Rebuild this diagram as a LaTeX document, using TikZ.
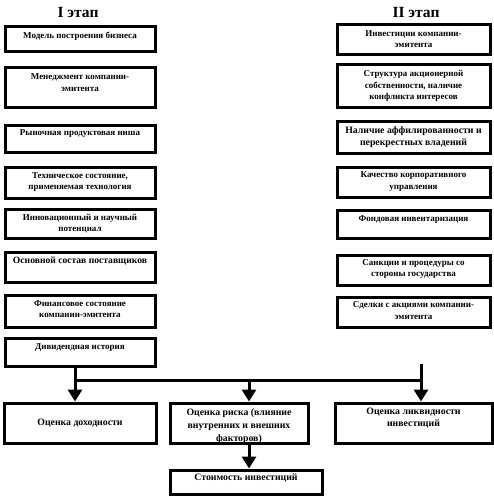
\documentclass[tikz,border=0pt]{standalone}
\usepackage{fontspec}
\setmainfont{Liberation Serif}
\usetikzlibrary{arrows.meta}
\tikzset{
  box/.style={draw=black, line width=3pt, rectangle, inner sep=0pt, fill=white},
  txt/.style={font=\bfseries\fontsize{9}{11.5}\selectfont, align=center, inner sep=0pt},
  big/.style={font=\bfseries\fontsize{9.8}{12.8}\selectfont},
  head/.style={font=\bfseries\fontsize{15.5}{18}\selectfont, inner sep=0pt},
  conn/.style={line width=3pt},
  arr/.style={line width=3pt, -{Triangle[width=14pt,length=12pt]}},
}
\newcommand{\mybox}[8][]{% [style], name, x1, y1, x2, y2, text, offset
  \node[box, minimum width={#5-#3}, minimum height={#6-#4}] (#2) at ({(#3+#5)/2},{(#4+#6)/2}) {};
  \node[txt, anchor=north, #1] (#2-t) at ([yshift=-#8]#2.north) {#7};
}
\begin{document}
\begin{tikzpicture}[x=1pt,y=-1pt]
\useasboundingbox (0,0) rectangle (494,500);
\node[head] (h1) at (78,13) {I этап};
\node[head] (h2) at (416,13) {II этап};
% left column
\mybox{L1}{5}{27}{155}{52}{Модель построения бизнеса}{6.5pt}
\mybox{L2}{5}{68}{155}{108}{Менеджмент компании-\\эмитента}{7pt}
\mybox{L3}{5}{125}{155}{152}{Рыночная продуктовая ниша}{6pt}
\mybox{L4}{5}{167}{155}{198}{Техническое состояние,\\применяемая технология}{6.5pt}
\mybox{L5}{5}{209}{155}{238}{Инновационный и научный\\потенциал}{6.5pt}
\mybox[font=\bfseries\fontsize{9.6}{11.5}\selectfont]{L6}{5}{252}{155}{282}{Основной состав поставщиков}{6.5pt}
\mybox{L7}{5}{295}{155}{327}{Финансовое состояние\\компании-эмитента}{6.5pt}
\mybox{L8}{5}{338}{155}{366}{Дивидендная история}{6.5pt}
% right column
\mybox{R1}{337}{25}{490}{55}{Инвестиции компании-\\эмитента}{6.5pt}
\mybox{R2}{337}{65}{490}{108}{Структура акционерной\\собственности, наличие\\конфликта интересов}{7pt}
\mybox[big, font=\bfseries\fontsize{9.8}{11.5}\selectfont]{R3}{337}{121}{490}{153}{Наличие аффилированности и\\перекрестных владений}{7pt}
\mybox{R4}{337}{167}{490}{197}{Качество корпоративного\\управления}{6pt}
\mybox{R5}{337}{210}{490}{238}{Фондовая инвентаризация}{6.5pt}
\mybox{R6}{337}{255}{490}{285}{Санкции и процедуры со\\стороны государства}{5.5pt}
\mybox{R7}{337}{297}{490}{327}{Сделки с акциями компании-\\эмитента}{6pt}
% bottom
\node[box, minimum width=152, minimum height=40] (B1) at (80,423) {};
\node[txt, big] (B1-t) at (B1.center) {Оценка доходности};
\mybox[big]{B2}{170}{403}{308}{443}{Оценка риска (влияние\\внутренних и внешних\\факторов)}{7pt}
\mybox[big, font=\bfseries\fontsize{9.8}{11.5}\selectfont]{B3}{335}{403}{492}{443}{Оценка ликвидности\\инвестиций}{6.5pt}
\mybox[big]{B4}{170}{470}{322}{494}{Стоимость инвестиций}{5.5pt}
% connectors
\coordinate (jl) at (75,380);
\coordinate (jm) at (249,380);
\coordinate (jr) at (421,380);
\coordinate (rs) at (421,364);
\draw[conn] (L8.south -| jl) -- (jl) -- (jr);
\draw[arr] (rs) -- (B3.north -| rs);
\draw[arr] (jl) -- (B1.north -| jl);
\draw[arr] (jm) -- (B2.north -| jm);
\draw[arr] (B2.south -| jm) -- (B4.north -| jm);
\end{tikzpicture}
\end{document}
